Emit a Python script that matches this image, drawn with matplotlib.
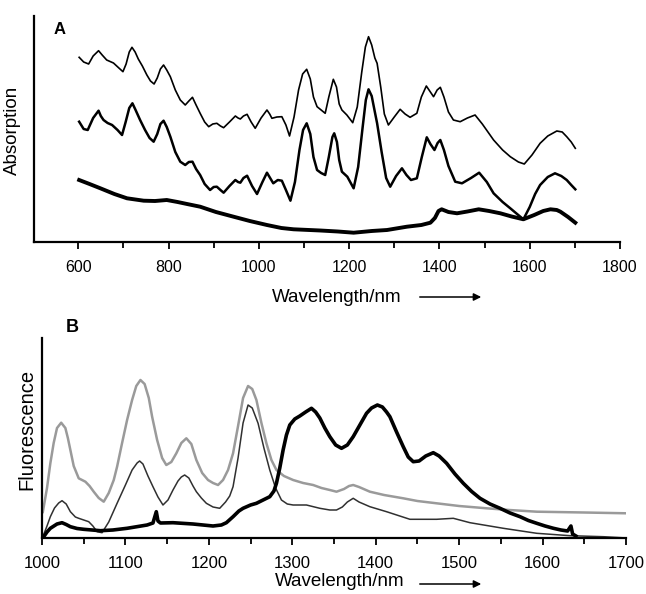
import matplotlib
matplotlib.use("Agg")
import matplotlib.pyplot as plt
from matplotlib.ticker import MultipleLocator

plt.rcParams['font.family'] = ['Liberation Sans', 'DejaVu Sans']

# ---------------- Panel A data (absorption, arbitrary units) ----------------
a_top_wl = [602, 612, 623, 633, 645, 653, 663, 678, 690, 699, 706, 713, 719, 726, 733, 742,
            752, 760, 768, 775, 782, 789, 796, 804, 815, 826, 837, 845, 853, 861, 870, 880,
            889, 898, 907, 915, 922, 935, 948, 954, 959, 966, 974, 983, 992, 1005, 1018, 1024,
            1029, 1040, 1051, 1060, 1068, 1078, 1088, 1097, 1106, 1114, 1121, 1129, 1138,
            1147, 1155, 1165, 1172, 1178, 1184, 1195, 1208, 1218, 1228, 1236, 1243, 1250,
            1257, 1262, 1270, 1278, 1287, 1300, 1313, 1324, 1335, 1350, 1360, 1371, 1380,
            1387, 1395, 1402, 1410, 1420, 1431, 1446, 1462, 1479, 1495, 1520, 1540, 1557,
            1575, 1588, 1605, 1623, 1640, 1660, 1672, 1682, 1692, 1701]
a_top_val = [184.7, 180, 178, 186, 191.3, 187, 182, 179, 174, 170.3, 178, 190, 194.7, 190, 183,
             176, 167, 161, 158, 164, 173, 177, 172, 165.3, 152, 142, 137, 141, 144.7, 137,
             128.7, 120, 115.3, 118, 118.7, 116, 114.3, 120, 126, 124, 123, 126, 127.7, 120,
             113.7, 124, 132, 128, 123.7, 125, 125.3, 117, 106, 125, 152, 168, 172.7, 163, 145,
             135.3, 132, 128.7, 145, 162.7, 155, 138, 132, 127, 119.3, 135, 170, 195, 205.3,
             197, 184, 178.7, 155, 128, 117, 125, 132.7, 128, 124.7, 128.7, 145, 156, 150,
             145.3, 152, 154.7, 145, 130, 122, 120.3, 124, 127, 118, 102, 92, 85.3, 80, 78, 87,
             98.7, 106, 111, 110, 105.3, 100, 93.7]

a_mid_wl = [602, 612, 621, 633, 645, 650, 656, 665, 675, 687, 697, 705, 713, 720, 727, 737,
            748, 758, 767, 775, 782, 789, 796, 804, 815, 826, 837, 845, 853, 861, 870, 880,
            892, 900, 907, 915, 922, 935, 948, 954, 959, 966, 974, 985, 996, 1008, 1018, 1025,
            1032, 1042, 1051, 1060, 1070, 1080, 1090, 1098, 1106, 1114, 1121, 1129, 1138,
            1147, 1155, 1163, 1167, 1173, 1178, 1184, 1196, 1210, 1220, 1230, 1237, 1243,
            1250, 1257, 1262, 1272, 1282, 1291, 1304, 1317, 1327, 1337, 1350, 1361, 1372,
            1380, 1389, 1396, 1402, 1410, 1420, 1435, 1450, 1470, 1488, 1505, 1520, 1540,
            1557, 1572, 1586, 1600, 1612, 1623, 1640, 1656, 1670, 1682, 1692, 1701]
a_mid_val = [120.3, 113, 112, 124, 131.3, 126, 122, 119, 117, 112, 107, 120, 134, 138.7, 132,
             122, 112, 104, 100.3, 108, 118, 121.3, 115, 105.3, 90, 80.3, 77, 80, 80.3, 73, 67,
             58, 52, 55, 55.3, 52, 49.3, 56, 62, 60, 59.3, 64, 66.3, 56, 48, 60, 69.3, 64, 58.7,
             62, 61.3, 52, 41.3, 60, 92, 112, 118.7, 108, 85, 72, 69, 67, 85, 105, 108.7, 100,
             82, 70.3, 65.3, 53.7, 75, 115, 142, 152.7, 146, 130, 118.7, 90, 64, 55.3, 66,
             73.7, 67, 62, 63.7, 85, 104.7, 98, 92, 99, 102, 92, 76, 60.3, 58.7, 64, 69.3, 60,
             48.7, 40, 33.7, 28, 22.7, 35, 48, 57, 65, 68.7, 66, 62, 57, 52.7]

a_bot_wl = [602, 625, 649, 680, 708, 745, 770, 796, 820, 841, 870, 905, 944, 980, 1018, 1050,
            1077, 1136, 1175, 1210, 1250, 1284, 1328, 1360, 1380, 1390, 1398, 1405, 1420,
            1439, 1462, 1487, 1510, 1535, 1560, 1586, 1610, 1630, 1646, 1660, 1668, 1685, 1701]
a_bot_val = [62, 58, 53.7, 48, 43.7, 41.3, 41, 42, 40, 38, 35.3, 30, 25.3, 21, 17, 14, 12.7,
             11.5, 10.5, 9.3, 11, 12, 15.3, 17, 19.3, 24, 31, 32.7, 30, 28.7, 30.5, 32.7, 31,
             28.7, 25.5, 22.7, 27, 31, 32.7, 32, 30.3, 25, 19.3]

a_ticks = [600, 800, 1000, 1200, 1400, 1600, 1800]

# ---------------- Panel B data (fluorescence, arbitrary units) ----------------
b_gray_wl = [1001, 1006, 1010, 1014, 1018, 1023, 1028, 1031, 1034, 1038, 1044, 1052, 1057,
             1062, 1068, 1074, 1080, 1086, 1090, 1096, 1102, 1108, 1113, 1118, 1123, 1128,
             1132, 1138, 1144, 1149, 1155, 1161, 1167, 1173, 1179, 1185, 1192, 1199, 1205,
             1211, 1217, 1223, 1229, 1235, 1241, 1247, 1252, 1257, 1263, 1269, 1275, 1281,
             1290, 1301, 1313, 1325, 1335, 1345, 1353, 1362, 1368, 1373, 1380, 1393, 1410,
             1433, 1450, 1473, 1500, 1533, 1560, 1593, 1650, 1701]
b_gray_val = [26, 50, 74.7, 95, 110, 115.3, 110, 100, 88, 72, 59.7, 56.3, 52, 46.3, 40, 36.3,
              45, 58, 71.3, 95, 118, 138, 152, 158, 154, 140, 121.3, 98, 80, 73, 76, 84.7, 95,
              99.7, 94, 78, 65, 58, 55, 53, 58, 68, 84.7, 112, 140, 152, 149, 138, 115, 94.7,
              78, 68, 62, 58, 55, 53, 50, 48, 46.3, 49, 52, 53, 51, 46.3, 43, 39.7, 37, 34.7,
              32, 29.7, 28, 26.3, 25.5, 24.7]

b_dark_wl = [1001, 1006, 1010, 1015, 1020, 1024, 1029, 1034, 1040, 1044, 1050, 1056, 1061,
             1066, 1072, 1080, 1090, 1100, 1108, 1114, 1117, 1121, 1127, 1133, 1139, 1145,
             1151, 1157, 1163, 1167, 1171, 1176, 1181, 1185, 1191, 1197, 1205, 1213, 1220,
             1225, 1229, 1235, 1241, 1247, 1252, 1259, 1266, 1273, 1280, 1287, 1294, 1301,
             1317, 1333, 1345, 1353, 1360, 1366, 1373, 1380, 1393, 1413, 1441, 1473, 1493,
             1513, 1553, 1593, 1633, 1673, 1701]
b_dark_val = [1.3, 12, 21.3, 30, 35, 37.3, 34, 26.3, 21, 19.7, 18, 16.3, 12, 6.3, 5.3, 16,
              34.7, 53, 68, 75, 77, 74, 62, 51.3, 41, 33, 38, 48, 57, 61, 63, 60, 52, 46.3, 40,
              34.7, 31, 29.7, 36, 42, 51.3, 80, 115, 133, 130, 114.7, 90, 68, 50, 38, 34, 33,
              33, 29.7, 28, 28, 31, 36, 39.7, 36, 31.3, 26.3, 18.7, 18.7, 19.7, 15.3, 9.7,
              4.7, 2.3, 1.3, 0]

b_black_wl = [1001, 1006, 1010, 1018, 1024, 1029, 1034, 1042, 1050, 1070, 1085, 1102, 1126,
              1133, 1137, 1139, 1142, 1157, 1181, 1205, 1215, 1221, 1229, 1236, 1241, 1250,
              1257, 1265, 1273, 1278, 1281, 1285, 1289, 1293, 1297, 1303, 1309, 1316, 1323,
              1328, 1333, 1339, 1345, 1352, 1359, 1366, 1373, 1381, 1389, 1395, 1402, 1408,
              1413, 1417, 1425, 1433, 1439, 1445, 1452, 1460, 1469, 1476, 1485, 1495, 1505,
              1515, 1525, 1537, 1549, 1561, 1573, 1583, 1593, 1603, 1613, 1622, 1630, 1634,
              1636, 1640]
b_black_val = [0, 6, 9.7, 14, 15.3, 13.5, 11.3, 9.5, 8.7, 7.3, 8, 9.7, 13, 15, 26.3, 17, 15,
               15.3, 14, 12, 13, 15.3, 21.3, 27, 29.7, 33, 34.7, 38, 41.3, 47, 54.7, 70, 88,
               103, 113, 119, 122, 126, 129.7, 126, 120, 110, 101.3, 93, 89.7, 93, 101.3, 113,
               124.7, 130, 133, 131, 126, 121.3, 106, 91.3, 81, 76.3, 77, 82, 85.3, 82, 74.7,
               64, 54.7, 46.5, 39.7, 34, 29.7, 25, 21.3, 17.5, 14.7, 12, 9.7, 8, 7, 12, 4, 2]

b_ticks = [1000, 1100, 1200, 1300, 1400, 1500, 1600, 1700]

W, H = 646, 594
fig = plt.figure(figsize=(W / 100, H / 100), dpi=100)


def box(l, t, r, b):
    return [l / W, 1 - b / H, (r - l) / W, (b - t) / H]


def style(ax, lab_size):
    for s in ('top', 'right'):
        ax.spines[s].set_visible(False)
    for s in ('left', 'bottom'):
        ax.spines[s].set_linewidth(1.6)
    ax.set_yticks([])
    ax.tick_params(axis='x', which='both', direction='out', width=1.3, color='black')
    ax.tick_params(axis='x', which='major', length=5, pad=8, labelsize=lab_size)
    ax.tick_params(axis='x', which='minor', length=4)


axA = fig.add_axes(box(34, 16, 620, 242))
axA.plot(a_top_wl, a_top_val, color='black', lw=1.2, solid_joinstyle='round')
axA.plot(a_mid_wl, a_mid_val, color='black', lw=1.8, solid_joinstyle='round')
axA.plot(a_bot_wl, a_bot_val, color='black', lw=2.8, solid_joinstyle='round')
axA.set_xlim(502, 1800)
axA.set_ylim(0, 226)
axA.set_xticks(a_ticks)
axA.xaxis.set_minor_locator(MultipleLocator(100))
style(axA, 11.5)

axB = fig.add_axes(box(42, 338, 626, 538))
axB.plot(b_gray_wl, b_gray_val, color='#9a9a9a', lw=1.8, solid_joinstyle='round')
axB.plot(b_dark_wl, b_dark_val, color='#303030', lw=1.1, solid_joinstyle='round')
axB.plot(b_black_wl, b_black_val, color='black', lw=2.6, solid_joinstyle='round')
axB.set_xlim(1000, 1700)
axB.set_ylim(0, 200)
axB.set_xticks(b_ticks)
axB.xaxis.set_minor_locator(MultipleLocator(50))
style(axB, 12)

# Panel letters
fig.text(60 / W, 1 - 30 / H, 'A', fontsize=12, fontweight='bold', ha='center', va='center')
fig.text(72 / W, 1 - 327 / H, 'B', fontsize=13, fontweight='bold', ha='center', va='center')

# Axis labels
fig.text(12 / W, 1 - 130 / H, 'Absorption', rotation=90, fontsize=13.5, ha='center', va='center')
fig.text(27 / W, 1 - 429 / H, 'Fluorescence', rotation=90, fontsize=14.5, ha='center', va='center')

for (cx, cy, ax0, ax1, ay) in [(337, 297, 417, 484, 297), (340, 582, 417, 484, 584)]:
    fig.text(cx / W, 1 - cy / H, 'Wavelength/nm', fontsize=13.5, ha='center', va='center')
    fig.add_artist(matplotlib.patches.FancyArrowPatch(
        (ax0 / W, 1 - ay / H), (ax1 / W, 1 - ay / H), transform=fig.transFigure,
        arrowstyle='-|>', mutation_scale=11, lw=1.1, color='black'))

fig.savefig('out.png', dpi=100)
